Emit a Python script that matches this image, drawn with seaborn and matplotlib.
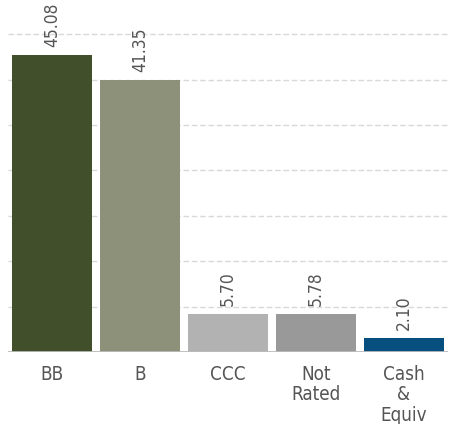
import matplotlib
matplotlib.use('Agg')
import matplotlib.pyplot as plt
import numpy as np
import pandas as pd
import seaborn as sb

# Rating breakdown (% of portfolio)
categories = ['BB', 'B', 'CCC', 'Not\nRated', 'Cash\n&\nEquiv']
values = [45.08, 41.35, 5.70, 5.78, 2.10]
colors = ['#424f2b', '#8e917a', '#b2b2b2', '#999999', '#064f7e']

df = pd.DataFrame({'rating': categories, 'pct': values})

sb.set_style('white')
plt.rcParams['font.family'] = ['DejaVu Sans']
plt.rcParams['font.stretch'] = 'condensed'

fig = plt.figure(figsize=(4.58, 4.24), dpi=100)
ax = fig.add_axes([8/458, 72/424, 440/458, 352/424])

sb.barplot(data=df, x='rating', y='pct', hue='rating', palette=colors,
           width=0.92, saturation=1, legend=False, linewidth=0, ax=ax)

ax.set_xlim(-0.5, 4.5)
ax.set_ylim(0, 53.5)
ax.set_yticks(np.arange(0, 49, 6.9))
ax.yaxis.grid(True, linestyle=(0, (4, 2)), color='#d9d9d9', linewidth=1)
ax.set_axisbelow(True)
ax.tick_params(axis='y', left=False, labelleft=False)
ax.tick_params(axis='x', bottom=False, pad=6)
for lab in ax.get_xticklabels():
    lab.set_fontsize(13.5)
    lab.set_color('#555555')
    lab.set_linespacing(1.08)
    lab.set_fontstretch('condensed')
for s in ax.spines.values():
    s.set_visible(False)
ax.axhline(0, color='#bbbbbb', linewidth=2, zorder=3)
ax.set_xlabel('')
ax.set_ylabel('')

for i, v in enumerate(values):
    ax.annotate('%.2f' % v, (i, v), xytext=(0, 6), textcoords='offset points',
                rotation=90, ha='center', va='bottom', fontsize=12.5,
                fontstretch='condensed', color='#555555')

fig.savefig('out.png', dpi=100)
